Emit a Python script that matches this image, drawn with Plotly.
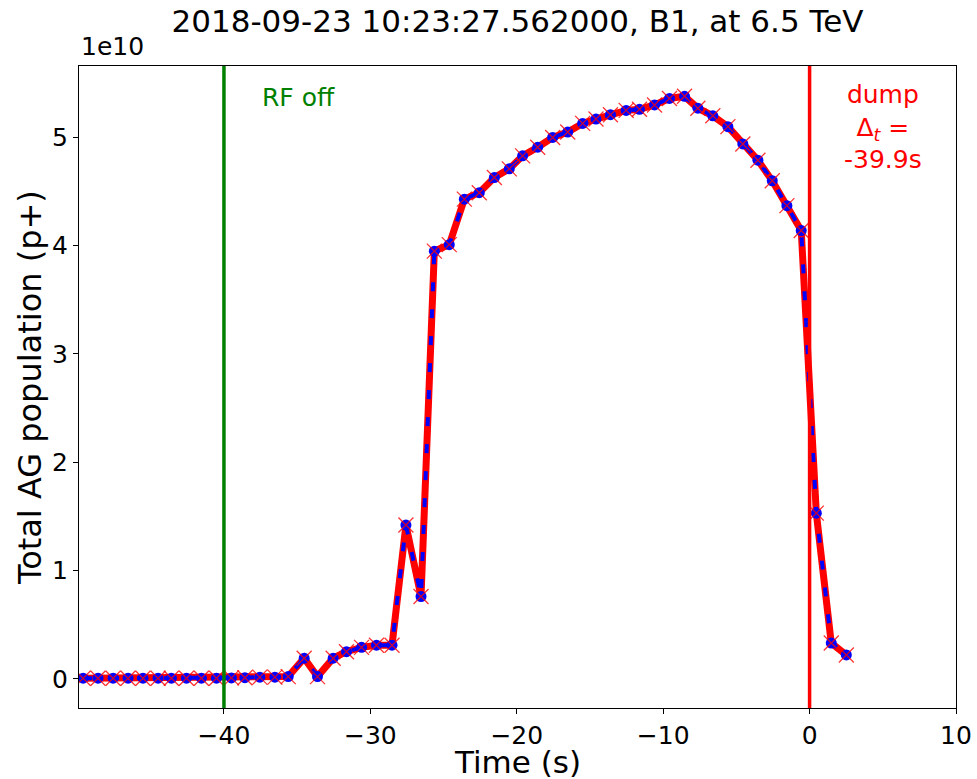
import plotly.graph_objects as go

# ---- data (population in units of 1e10 protons) ----
time_s = [-49.62, -48.60, -47.57, -46.55, -45.53, -44.50, -43.59, -42.56, -41.54, -40.51,
          -39.49, -38.57, -37.55, -36.52, -35.61, -34.52, -33.61, -32.54, -31.63, -30.60,
          -29.58, -28.52, -27.57, -26.54, -25.63, -24.61, -23.58, -22.56, -21.53, -20.51,
          -19.60, -18.57, -17.55, -16.52, -15.50, -14.59, -13.60, -12.53, -11.62, -10.59,
          -9.57, -8.54, -7.63, -6.61, -5.58, -4.56, -3.53, -2.55, -1.55, -0.57,
          0.46, 1.48, 2.51]
population_1e10 = [0.005, 0.005, 0.005, 0.005, 0.005, 0.005, 0.005, 0.005, 0.005, 0.005,
                   0.008, 0.010, 0.015, 0.015, 0.020, 0.19, 0.02, 0.19, 0.25, 0.29,
                   0.31, 0.31, 1.42, 0.76, 3.95, 4.01, 4.43, 4.49, 4.63, 4.71,
                   4.83, 4.91, 5.00, 5.05, 5.13, 5.17, 5.21, 5.25, 5.26, 5.30,
                   5.36, 5.38, 5.27, 5.20, 5.10, 4.94, 4.79, 4.60, 4.37, 4.14,
                   1.53, 0.33, 0.22]
rf_off_time = -40
dump_time = 0
dump_delta = "-39.9s"
x_ticks = [-40, -30, -20, -10, 0, 10]
y_ticks = [0, 1, 2, 3, 4, 5]

FONT = "DejaVu Sans"
FIG_W, FIG_H = 977, 779

fig = go.Figure()
# red solid line underneath
fig.add_trace(go.Scatter(x=time_s, y=population_1e10, mode="lines",
                         line=dict(color="#ff0000", width=7), hoverinfo="skip"))
# blue dashed line with circle markers
fig.add_trace(go.Scatter(x=time_s, y=population_1e10, mode="lines+markers",
                         line=dict(color="#0000ff", width=4, dash="9px,18px"),
                         marker=dict(symbol="circle", size=11, color="#0000ff")))
# red x markers on top
fig.add_trace(go.Scatter(x=time_s, y=population_1e10, mode="markers",
                         marker=dict(symbol="x-thin-open", size=15, color="rgba(255,0,0,0.8)",
                                     line=dict(color="rgba(255,0,0,0.8)", width=1.3))))

fig.add_shape(type="line", x0=rf_off_time, x1=rf_off_time, y0=0, y1=1,
              xref="x", yref="paper", line=dict(color="#008000", width=3.5))
fig.add_shape(type="line", x0=dump_time, x1=dump_time, y0=0, y1=1,
              xref="x", yref="paper", line=dict(color="#ff0000", width=3.5))

fig.add_annotation(x=-34.9, y=5.37, xref="x", yref="y", xanchor="center", yanchor="middle",
                   text="RF off", showarrow=False,
                   font=dict(family=FONT, size=25, color="#008000"))
fig.add_annotation(x=5.0, y=5.55, xref="x", yref="y", xanchor="center", yanchor="top",
                   text="dump<br>Δ<sub><i>t</i></sub> =<br>" + dump_delta,
                   showarrow=False, align="center",
                   font=dict(family=FONT, size=25, color="#ff0000"))
fig.add_annotation(x=0, y=1, xref="paper", yref="paper", xanchor="left", yanchor="bottom",
                   yshift=3, text="1e10", showarrow=False,
                   font=dict(family=FONT, size=25, color="black"))
fig.add_annotation(x=0.5, y=-0.0841, xref="paper", yref="paper", xanchor="center",
                   yanchor="middle", text="Time (s)", showarrow=False,
                   font=dict(family=FONT, size=31, color="black"))
fig.add_annotation(x=-0.0559, y=0.5, xref="paper", yref="paper", xanchor="center",
                   yanchor="middle", text="Total AG population (p+)", textangle=-90,
                   showarrow=False, font=dict(family=FONT, size=32, color="black"))

fig.update_layout(
    width=FIG_W, height=FIG_H,
    margin=dict(l=79, r=21, t=66, b=71),
    paper_bgcolor="white", plot_bgcolor="white",
    showlegend=False,
    title=dict(text="2018-09-23 10:23:27.562000, B1, at 6.5 TeV",
               x=0.5, xref="paper", y=1 - 21 / FIG_H, yref="container",
               xanchor="center", yanchor="middle",
               font=dict(family=FONT, size=31, color="black")),
    font=dict(family=FONT, color="black"),
)
fig.update_xaxes(range=[-49.9, 10], tickvals=x_ticks,
                 ticktext=[("\u2212" + str(-v)) if v < 0 else str(v) for v in x_ticks],
                 showline=True, mirror=True, linecolor="black", linewidth=1,
                 ticks="outside", ticklen=5, tickcolor="black", showgrid=False,
                 zeroline=False, automargin=False, ticklabeloverflow="allow",
                 tickfont=dict(family=FONT, size=25, color="black"))
fig.update_yaxes(range=[-0.27, 5.66], tickvals=y_ticks, ticktext=[str(v) for v in y_ticks],
                 showline=True, mirror=True, linecolor="black", linewidth=1,
                 ticks="outside", ticklen=5, tickcolor="black", showgrid=False,
                 zeroline=False, automargin=False, ticklabeloverflow="allow",
                 tickfont=dict(family=FONT, size=25, color="black"))

# remove the browser's default 8px page margin so the figure fills the window exactly
fig.write_html("out.html", config={"displayModeBar": False},
               post_script="document.body.style.margin='0px';")
